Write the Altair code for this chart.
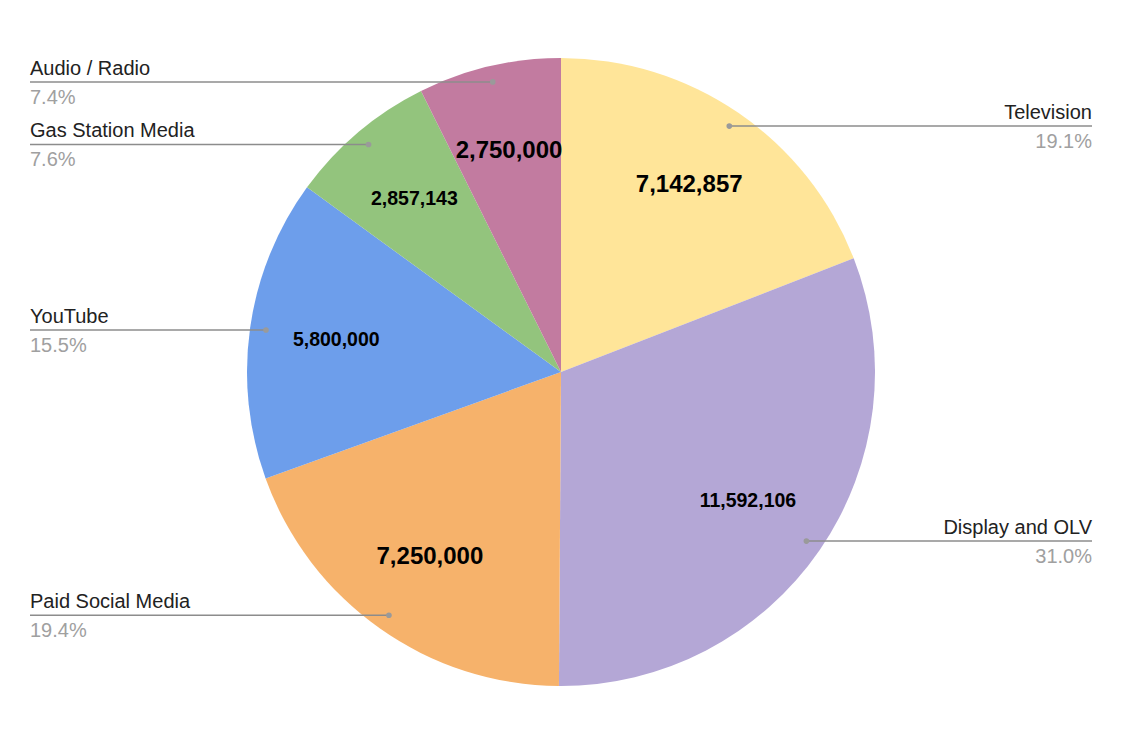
import altair as alt
import pandas as pd

# Media budget split by channel (clockwise from 12 o'clock)
channels = ["Television", "Display and OLV", "Paid Social Media", "YouTube",
            "Gas Station Media", "Audio / Radio"]
budgets = [7142857, 11592106, 7250000, 5800000, 2857143, 2750000]

# Styling
slice_colors = ["#FFE599", "#B4A7D6", "#F6B26B", "#6D9EEB", "#93C47D", "#C27BA0"]
value_font_sizes = [24, 19.5, 24, 19.5, 19.5, 24]
FONT = "Liberation Sans"
LABEL_SIZE = 20

# Layout of the pie (pixels)
CX, CY = 561, 372
R_OUTER = 314
R_DOT = 298
R_VALUE = 227
LEFT_EDGE, RIGHT_EDGE = 30, 1092

df = pd.DataFrame({
    "channel": channels,
    "budget": budgets,
    "idx": list(range(len(channels))),
    "fs": value_font_sizes,
})

base = alt.Chart(df)

pie = base.mark_arc(outerRadius=R_OUTER, stroke=None).encode(
    theta=alt.Theta("budget:Q", stack=True),
    order=alt.Order("idx:Q"),
    color=alt.Color("channel:N", scale=alt.Scale(domain=channels, range=slice_colors),
                    legend=None),
    x=alt.value(CX),
    y=alt.value(CY),
)

# Geometry derived from the data: mid-angle of each slice, anchor points, label side
geo = base.transform_joinaggregate(
    total="sum(budget)"
).transform_window(
    cum="sum(budget)", sort=[alt.SortField("idx", order="ascending")],
    frame=[None, 0]
).transform_calculate(
    mid="(datum.cum - datum.budget / 2) / datum.total * 2 * PI",
    pct="format(datum.budget / datum.total, '.1%')",
    val="format(datum.budget, ',')",
).transform_calculate(
    dot_x=f"{CX} + {R_DOT} * sin(datum.mid)",
    dot_y=f"{CY} - {R_DOT} * cos(datum.mid)",
    val_x=f"{CX} + {R_VALUE} * sin(datum.mid)",
    val_y=f"{CY} - {R_VALUE} * cos(datum.mid)",
    right="datum.mid < PI",
).transform_calculate(
    edge_x=f"datum.right ? {RIGHT_EDGE} : {LEFT_EDGE}",
    name_y="datum.dot_y - 7",
    pct_y="datum.dot_y + 22",
)

values = geo.mark_text(font=FONT, fontWeight="bold", color="#000000",
                       baseline="middle", align="center").encode(
    x=alt.X("val_x:Q", scale=None),
    y=alt.Y("val_y:Q", scale=None),
    text="val:N",
    size=alt.Size("fs:Q", scale=None, legend=None),
)

leaders = geo.mark_rule(color="#8c8c8c", strokeWidth=1.5).encode(
    x=alt.X("dot_x:Q", scale=None),
    x2="edge_x:Q",
    y=alt.Y("dot_y:Q", scale=None),
)

dots = geo.mark_circle(color="#9a9a9a", opacity=1, size=32).encode(
    x=alt.X("dot_x:Q", scale=None),
    y=alt.Y("dot_y:Q", scale=None),
)

def side_labels(is_right, align):
    side = geo.transform_filter(f"datum.right == {str(is_right).lower()}")
    names = side.mark_text(font=FONT, fontSize=LABEL_SIZE, color="#222222",
                           align=align, baseline="alphabetic").encode(
        x=alt.X("edge_x:Q", scale=None),
        y=alt.Y("name_y:Q", scale=None),
        text="channel:N",
    )
    pcts = side.mark_text(font=FONT, fontSize=LABEL_SIZE, color="#a0a0a0",
                          align=align, baseline="alphabetic").encode(
        x=alt.X("edge_x:Q", scale=None),
        y=alt.Y("pct_y:Q", scale=None),
        text="pct:N",
    )
    return names + pcts

chart = alt.layer(
    pie, values, leaders, dots,
    side_labels(True, "right"), side_labels(False, "left"),
).properties(
    width=1125, height=750,
    autosize=alt.AutoSizeParams(type="none"),
    padding=0,
    background="white",
).configure_view(stroke=None)

chart.save("out.html", embed_options={"renderer": "svg", "actions": False})
